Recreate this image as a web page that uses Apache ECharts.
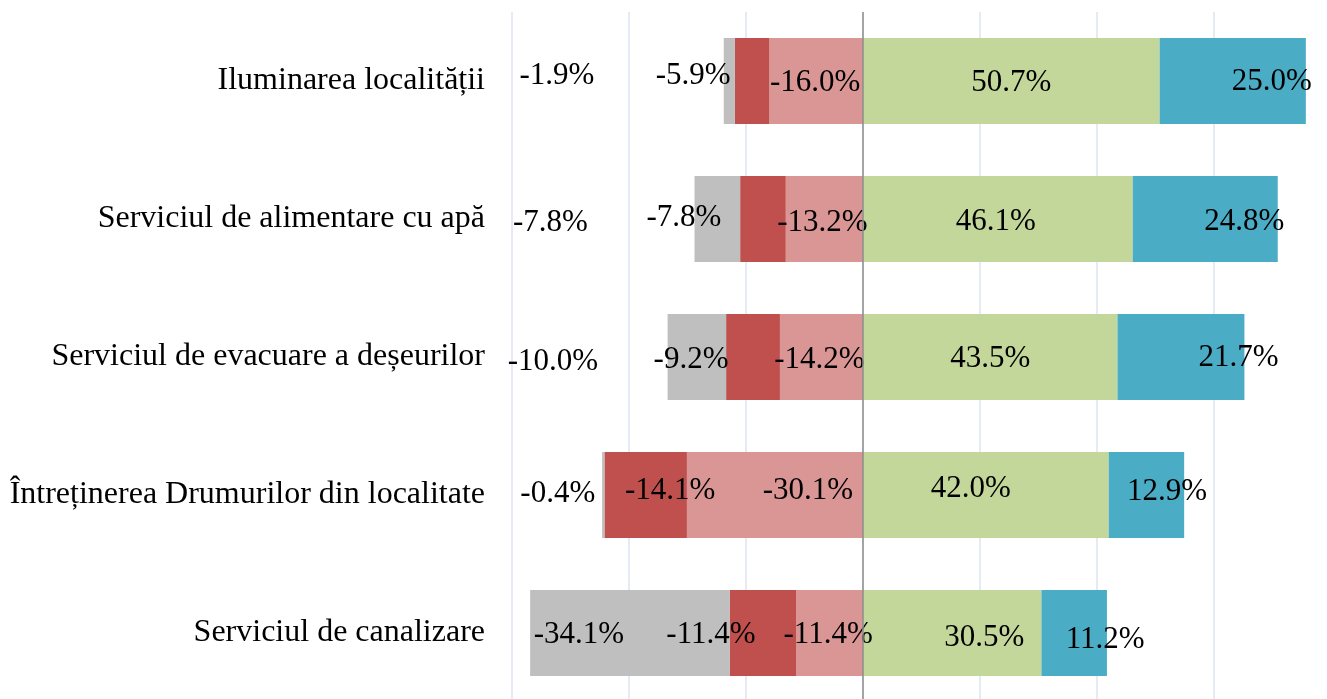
<!DOCTYPE html>
<html>
<head>
<meta charset="utf-8">
<script src="https://cdn.jsdelivr.net/npm/echarts@6/dist/echarts.min.js"></script>
<style>
  html, body { margin: 0; background: #fff; }
  #chart { width: 1327px; height: 699px; }
</style>
</head>
<body>
<div id="chart"></div>
<script>
// categorii (de sus in jos)
const categories = [
  'Iluminarea localității',
  'Serviciul de alimentare cu apă',
  'Serviciul de evacuare a deșeurilor',
  'Întreținerea Drumurilor din localitate',
  'Serviciul de canalizare'
];

// valori negative (stanga)
const nemultumit = [-16.0, -13.2, -14.2, -30.1, -11.4];
const foarteNemultumit = [-5.9, -7.8, -9.2, -14.1, -11.4];
const nuStiu = [-1.9, -7.8, -10.0, -0.4, -34.1];
// valori pozitive (dreapta)
const multumit = [50.7, 46.1, 43.5, 42.0, 30.5];
const foarteMultumit = [25.0, 24.8, 21.7, 12.9, 11.2];

// deplasarea etichetelor fata de centrul segmentului [dx, dy] (px)
const nudgeNemultumit = [[-1, 2], [-2, 3.5], [-2, 2.5], [33, -4.5], [-1.5, 2]];
const nudgeFoarteNem = [[-59, -5], [-79, -1], [-62, 2.5], [24.5, -4.5], [-52, 2]];
const nudgeNuStiu = [[-172.5, -5], [-167, 3.5], [-144, 4.5], [-45.5, -1.5], [-51, 2]];
const nudgeMultumit = [[0, 2], [-2, 2.5], [0, 2], [-15, -6.5], [32, 4.5]];
const nudgeFoarteMul = [[39, 0.5], [39, 2.5], [57.5, 0.5], [20.5, -3], [31, 7]];

const FONT = '"Liberation Serif", "Times New Roman", serif';

function withNudge(values, nudge) {
  return values.map((v, i) => ({ value: v, label: { offset: nudge[i] } }));
}

function barSeries(name, color, values, nudge) {
  return {
    name: name,
    type: 'bar',
    stack: 'total',
    barWidth: 86,
    itemStyle: { color: color },
    label: {
      show: true,
      position: 'inside',
      color: '#000',
      fontFamily: FONT,
      fontSize: 31,
      formatter: p => p.value.toFixed(1) + '%'
    },
    data: withNudge(values, nudge)
  };
}

const chart = echarts.init(document.getElementById('chart'));

const series = [
  barSeries('Nemulțumit', '#d99694', nemultumit, nudgeNemultumit),
  barSeries('Foarte nemulțumit', '#c0504d', foarteNemultumit, nudgeFoarteNem),
  barSeries('Nu știu', '#bfbfbf', nuStiu, nudgeNuStiu),
  barSeries('Mulțumit', '#c4d79b', multumit, nudgeMultumit),
  barSeries('Foarte mulțumit', '#4bacc6', foarteMultumit, nudgeFoarteMul)
];

// linia de zero
series[3].markLine = {
  silent: true,
  symbol: 'none',
  label: { show: false },
  lineStyle: { color: '#8c8c8c', width: 1.5, type: 'solid' },
  data: [{ xAxis: 0 }]
};

chart.setOption({
  animation: false,
  grid: { left: 512, right: -4, top: 12, bottom: -3, outerBoundsMode: 'none' },
  xAxis: {
    type: 'value',
    min: -60,
    max: 80,
    interval: 20,
    axisLabel: { show: false },
    axisLine: { show: false },
    axisTick: { show: false },
    splitLine: { lineStyle: { color: '#dbe5f1', width: 1.5 } }
  },
  yAxis: {
    type: 'category',
    inverse: true,
    data: categories,
    axisLine: { show: false },
    axisTick: { show: false },
    axisLabel: {
      color: '#000',
      fontFamily: FONT,
      fontSize: 32,
      margin: 27
    }
  },
  series: series
});
</script>
</body>
</html>
